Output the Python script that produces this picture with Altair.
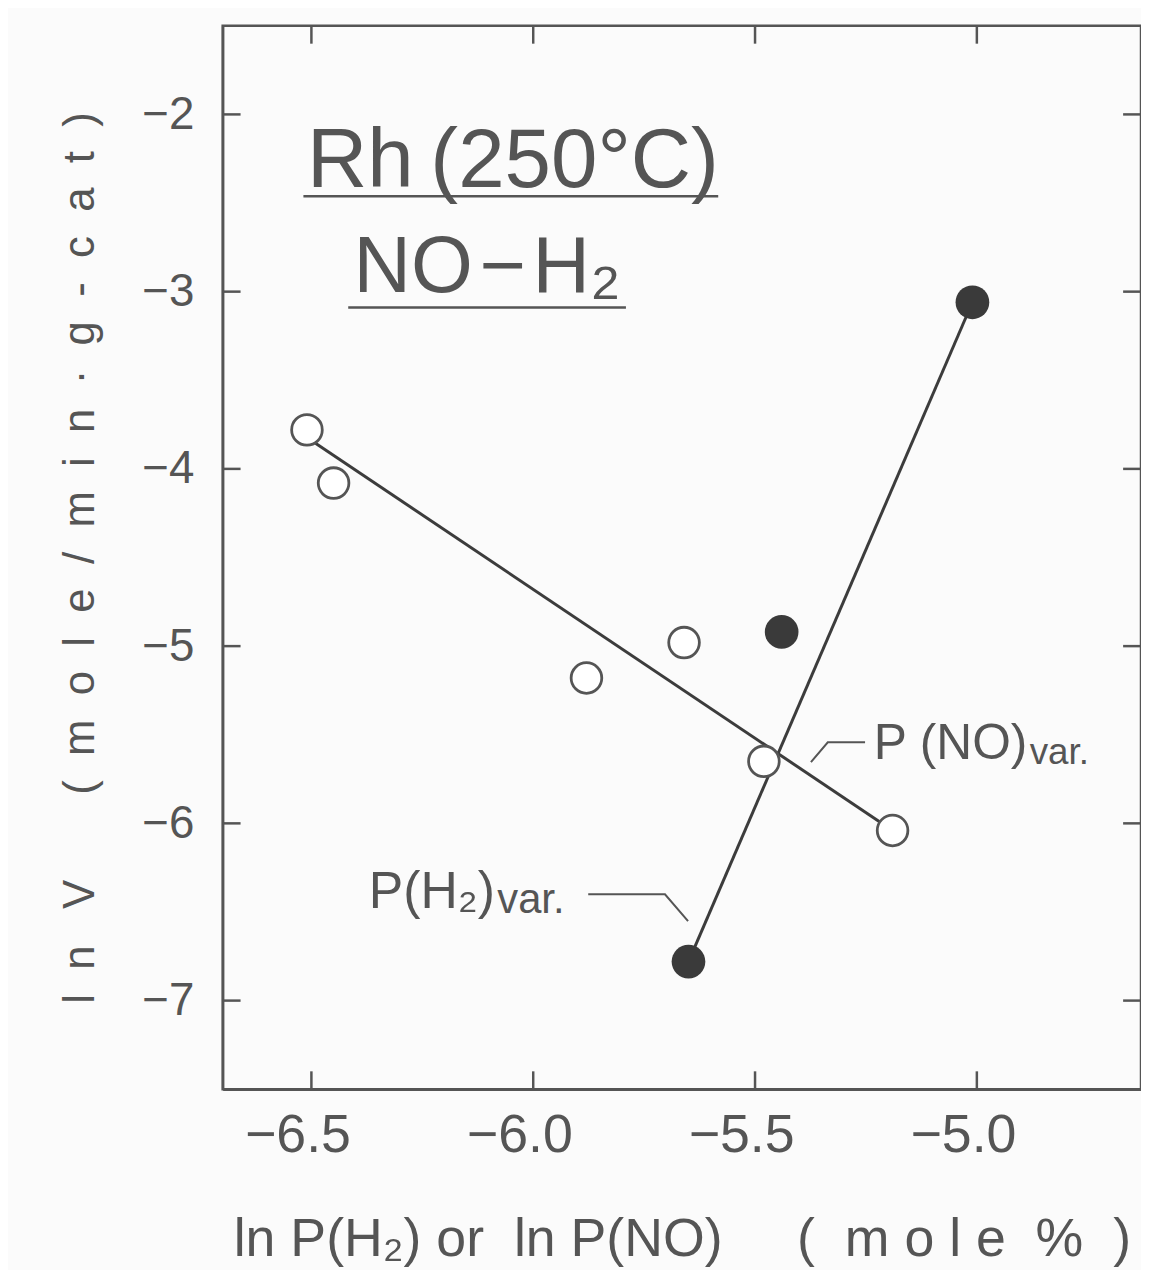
import altair as alt
import pandas as pd

# ---- data ----
open_x = [-6.51, -6.45, -5.88, -5.66, -5.48, -5.19]
open_y = [-3.78, -4.08, -5.18, -4.98, -5.65, -6.04]

filled_x = [-5.65, -5.44, -5.01]
filled_y = [-6.78, -4.92, -3.06]

no_line_x = [-6.50, -5.19]
no_line_y = [-3.84, -6.04]
h2_line_x = [-5.65, -5.01]
h2_line_y = [-6.78, -3.06]

x_ticks = [-6.5, -6.0, -5.5, -5.0]
y_ticks = [-2, -3, -4, -5, -6, -7]

# annotation anchors (data coordinates)
title1_text = ["Rh\u2009(250°C)"]
title1_x = [-6.51]
title1_y = [-2.41]
title2_text = ["NO\u200a−\u200aH₂"]
title2_x = [-6.405]
title2_y = [-3.00]
ul_x1 = [-6.518, -6.417]
ul_x2 = [-5.583, -5.791]
ul_y = [-2.462, -3.09]

no_lead_x = [-5.374, -5.336, -5.252]
no_lead_y = [-5.655, -5.543, -5.543]
h2_lead_x = [-5.876, -5.703, -5.651]
h2_lead_y = [-6.40, -6.40, -6.552]

no_lab_text = ["P (NO)"]
no_lab_x = [-4.886]
no_lab_y = [-5.635]
no_sub_y = [-5.665]
h2_lab_text = ["P(H₂)"]
h2_lab_x = [-6.086]
h2_lab_y = [-6.476]
h2_sub_y = [-6.505]
sub_text = ["var."]

W, H = 924, 1070
FONT = "Liberation Sans"
GRAY = "#555555"
LINE = "#3c3c3c"
NB = "\u00a0"

xs = alt.Scale(domain=[-6.7, -4.63], nice=False, zero=False)
ys = alt.Scale(domain=[-7.5, -1.5], nice=False, zero=False)

x_title = ("ln P(H₂) or" + NB * 2 + "ln P(NO)" + NB * 5 +
           "(" + NB * 2 + "m" + NB + "o" + NB + "l" + NB + "e" + NB * 2 + "%" + NB * 2 + ")")
y_title = ("l" + NB * 2 + "n" + NB * 3 + "V" + NB * 7 +
           (NB * 2).join("(mole/min·g-cat)"))

pts_open = pd.DataFrame({"x": open_x, "y": open_y})
pts_fill = pd.DataFrame({"x": filled_x, "y": filled_y})
no_line = pd.DataFrame({"x": no_line_x, "y": no_line_y, "o": [0, 1]})
h2_line = pd.DataFrame({"x": h2_line_x, "y": h2_line_y, "o": [0, 1]})
no_lead = pd.DataFrame({"x": no_lead_x, "y": no_lead_y, "o": [0, 1, 2]})
h2_lead = pd.DataFrame({"x": h2_lead_x, "y": h2_lead_y, "o": [0, 1, 2]})
xt = pd.DataFrame({"x": x_ticks})
yt = pd.DataFrame({"y": y_ticks})
ul = pd.DataFrame({"x": ul_x1, "x2": ul_x2, "y": ul_y})

X = lambda f="x": alt.X(f"{f}:Q", scale=xs)
Y = lambda f="y": alt.Y(f"{f}:Q", scale=ys)

# base layer carrying the axes
base = alt.Chart(pts_open).mark_point(opacity=0).encode(
    x=alt.X("x:Q", scale=xs, title=x_title,
            axis=alt.Axis(values=x_ticks, format=".1f", ticks=False, grid=False,
                          domainColor=GRAY, domainWidth=2.5,
                          labelFontSize=54, labelColor=GRAY, labelFont=FONT,
                          labelPadding=20, labelOffset=-14,
                          titleFontSize=54, titleColor=GRAY, titleFont=FONT,
                          titleFontWeight="normal", titlePadding=50)),
    y=alt.Y("y:Q", scale=ys, title=y_title,
            axis=alt.Axis(values=y_ticks, format="d", ticks=False, grid=False,
                          domainColor=GRAY, domainWidth=2.5,
                          labelFontSize=46, labelColor=GRAY, labelFont=FONT,
                          labelPadding=29,
                          titleFontSize=44, titleColor=GRAY, titleFont=FONT,
                          titleFontWeight="normal", titlePadding=40)),
)

TL = 18
tick_b = alt.Chart(xt).mark_rule(color=GRAY, strokeWidth=2.5).encode(
    x=X(), y=alt.value(H), y2=alt.value(H - TL))
tick_t = alt.Chart(xt).mark_rule(color=GRAY, strokeWidth=2.5).encode(
    x=X(), y=alt.value(0), y2=alt.value(TL))
tick_l = alt.Chart(yt).mark_rule(color=GRAY, strokeWidth=2.5).encode(
    y=Y(), x=alt.value(0), x2=alt.value(TL))
tick_r = alt.Chart(yt).mark_rule(color=GRAY, strokeWidth=2.5).encode(
    y=Y(), x=alt.value(W), x2=alt.value(W - TL))

l_no = alt.Chart(no_line).mark_line(color=LINE, strokeWidth=3).encode(
    x=X(), y=Y(), order="o:Q")
l_h2 = alt.Chart(h2_line).mark_line(color=LINE, strokeWidth=3).encode(
    x=X(), y=Y(), order="o:Q")
ld_no = alt.Chart(no_lead).mark_line(color=GRAY, strokeWidth=2).encode(
    x=X(), y=Y(), order="o:Q")
ld_h2 = alt.Chart(h2_lead).mark_line(color=GRAY, strokeWidth=2).encode(
    x=X(), y=Y(), order="o:Q")

underl = alt.Chart(ul).mark_rule(color=GRAY, strokeWidth=2.5).encode(
    x=X(), x2="x2:Q", y=Y())

p_open = alt.Chart(pts_open).mark_point(
    shape="circle", filled=True, fill="white", stroke=GRAY,
    strokeWidth=2.8, size=950, opacity=1).encode(x=X(), y=Y())
p_fill = alt.Chart(pts_fill).mark_circle(
    color="#3a3a3a", size=1150, opacity=1).encode(x=X(), y=Y())

def txt(df, size, align="left"):
    return alt.Chart(df).mark_text(
        font=FONT, fontSize=size, color=GRAY, align=align,
        baseline="alphabetic").encode(x=X(), y=Y(), text="t:N")

t1 = txt(pd.DataFrame({"x": title1_x, "y": title1_y, "t": title1_text}), 84)
t2 = txt(pd.DataFrame({"x": title2_x, "y": title2_y, "t": title2_text}), 80)
t_no = txt(pd.DataFrame({"x": no_lab_x, "y": no_lab_y, "t": no_lab_text}), 50, "right")
t_no_s = txt(pd.DataFrame({"x": [v + 0.005 for v in no_lab_x], "y": no_sub_y,
                           "t": sub_text}), 37, "left")
t_h2 = txt(pd.DataFrame({"x": h2_lab_x, "y": h2_lab_y, "t": h2_lab_text}), 52, "right")
t_h2_s = txt(pd.DataFrame({"x": [v + 0.005 for v in h2_lab_x], "y": h2_sub_y,
                           "t": sub_text}), 42, "left")

chart = alt.layer(
    base, tick_b, tick_t, tick_l, tick_r,
    l_no, l_h2, ld_no, ld_h2, underl,
    p_open, p_fill, t1, t2, t_no, t_no_s, t_h2, t_h2_s,
).properties(
    width=W, height=H,
    autosize=alt.AutoSizeParams(type="none"),
    padding={"left": 216, "top": 14, "right": 0, "bottom": 178},
    background="#fbfbfb",
).configure_view(
    stroke=GRAY, strokeWidth=2.5
)

chart.save("out.html", embed_options={"renderer": "svg", "actions": False})
